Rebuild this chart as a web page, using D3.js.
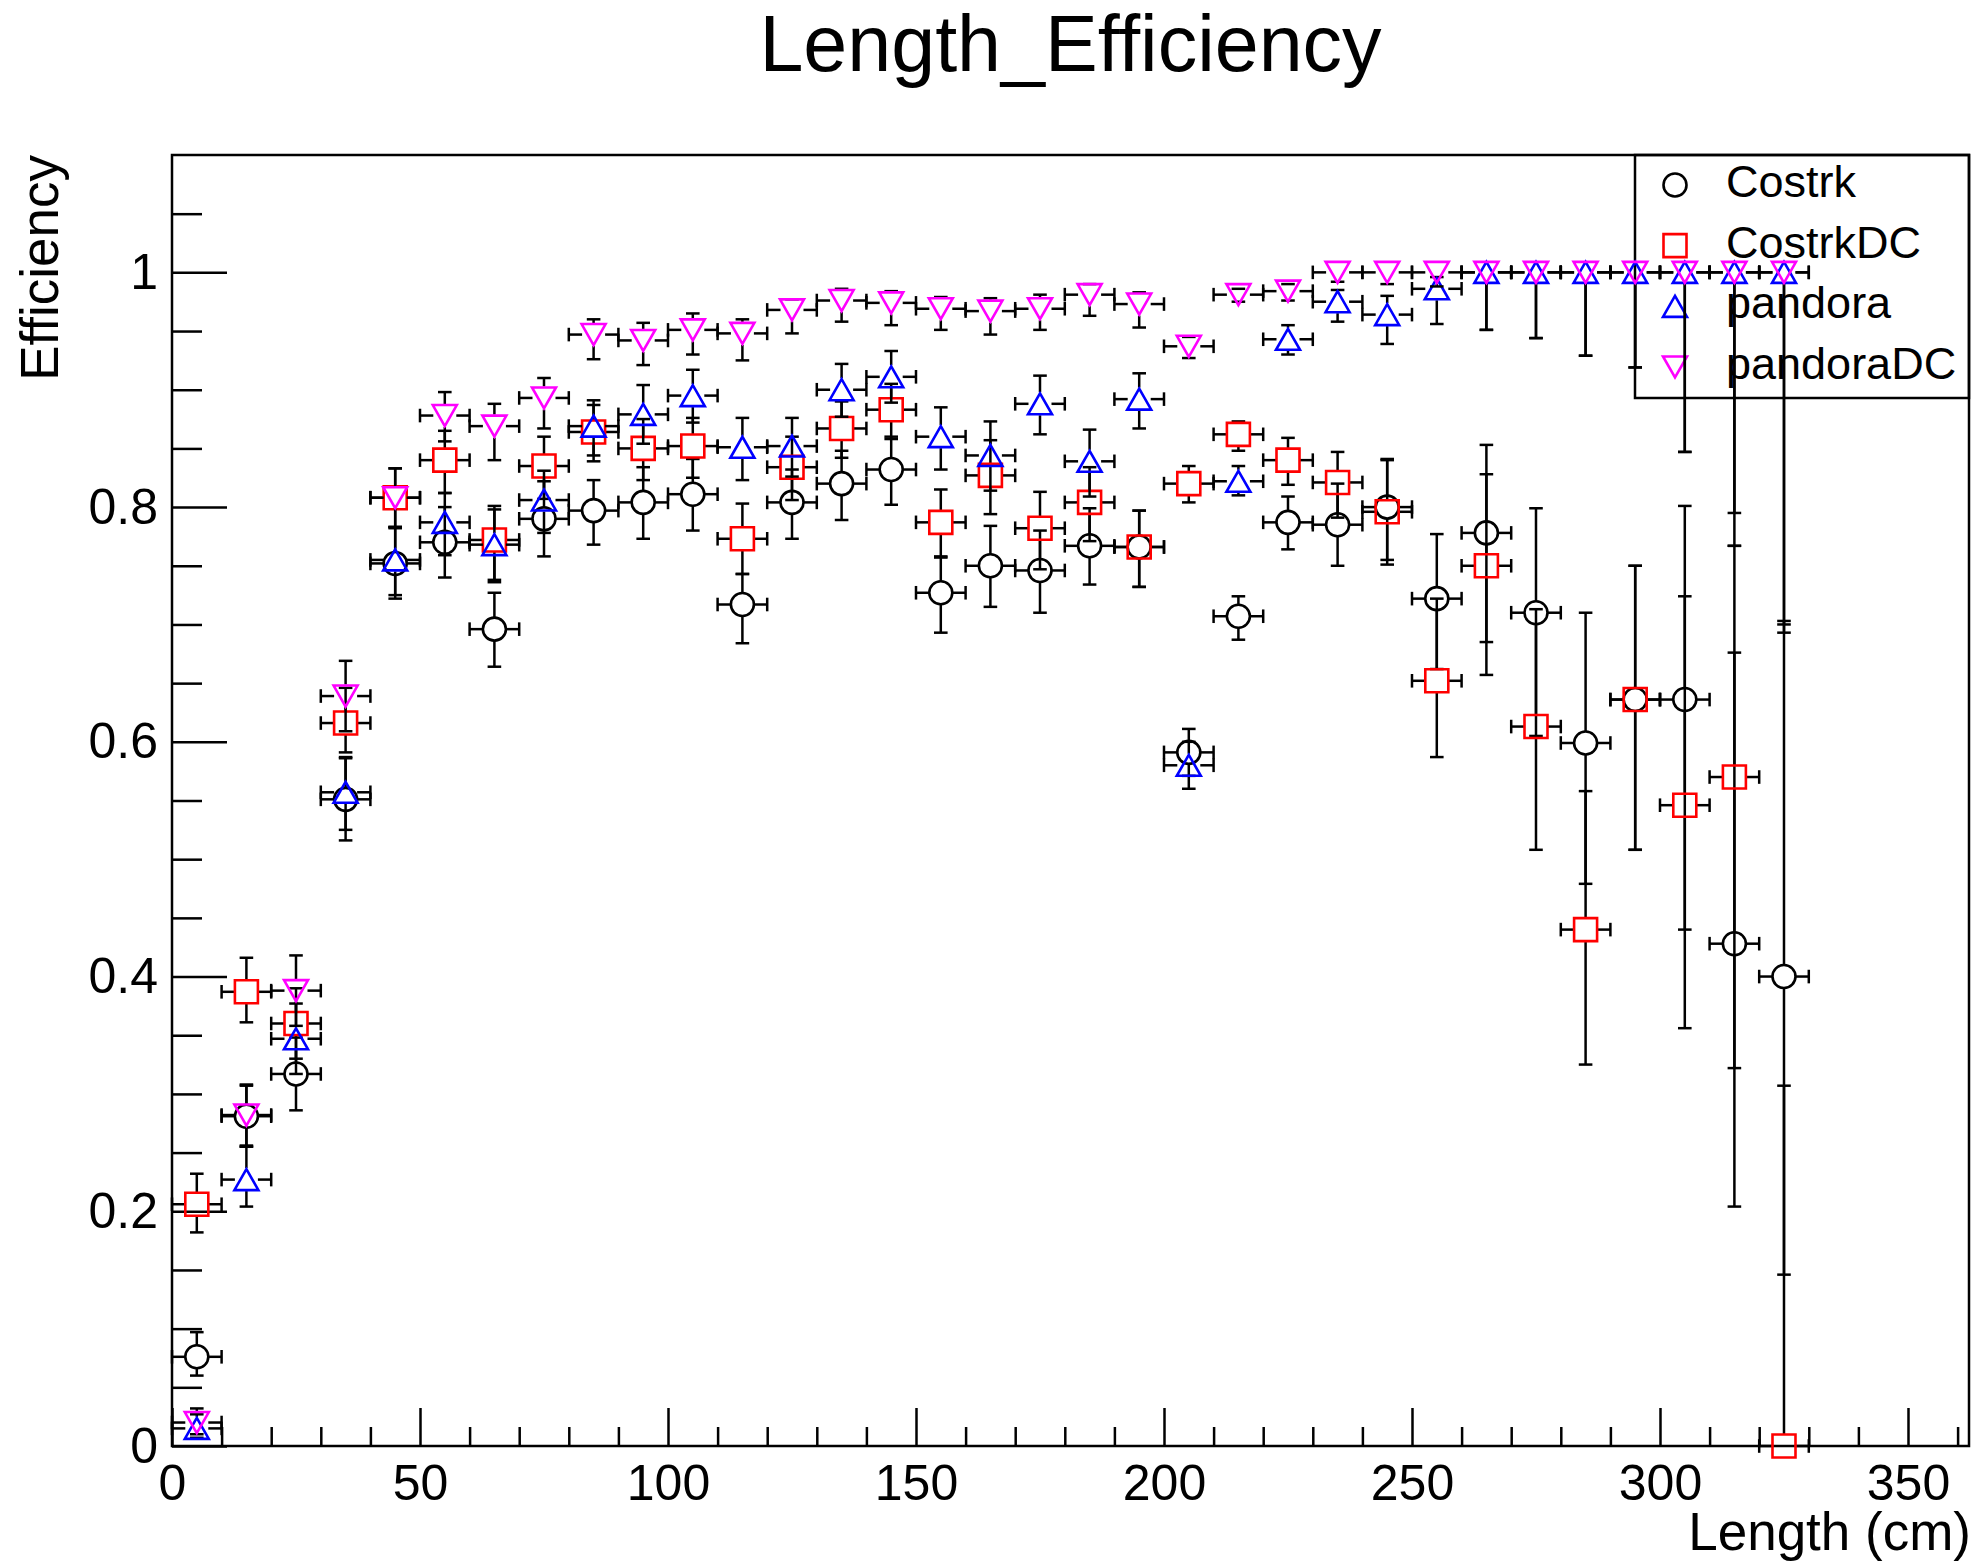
<!DOCTYPE html>
<meta charset="utf-8" />
<title>Length_Efficiency</title>
<style>
  body { margin: 0; background: #fff; }
  svg { display: block; font-family: "Liberation Sans", Arial, Helvetica, sans-serif; }
  .axis text { font-size: 50px; fill: #000; }
  .axis line { stroke: #000; stroke-width: 2.5px; }
  .axis path { display: none; }
  .frame { fill: none; stroke: #000; stroke-width: 2.5px; }
  .err { stroke: #000; stroke-width: 2.5px; fill: none; }
  .mark { fill: none; stroke-width: 2.6px; }
  .legend-box { fill: none; stroke: #000; stroke-width: 2.5px; }
  .legend text { font-size: 45px; fill: #000; }
</style>

<svg width="1980" height="1561"></svg>

<script src="https://d3js.org/d3.v7.min.js"></script>
<script>
const width = 1980, height = 1561;
const svg = d3.select("svg");

// bin centres (cm)
const lengths = [5, 15, 25, 35, 45, 55, 65, 75, 85, 95, 105, 115, 125, 135, 145, 155, 165,
  175, 185, 195, 205, 215, 225, 235, 245, 255, 265, 275, 285, 295, 305, 315, 325];

const costrkEff = [0.076, 0.281, 0.317, 0.551, 0.752, 0.770, 0.696, 0.790, 0.797, 0.804, 0.811,
  0.717, 0.804, 0.820, 0.832, 0.727, 0.750, 0.746, 0.767, 0.766, 0.591, 0.707, 0.787, 0.785,
  0.800, 0.722, 0.778, 0.710, 0.599, 0.636, 0.636, 0.428, 0.400];
const costrkLo = [0.016, 0.026, 0.031, 0.035, 0.030, 0.030, 0.032, 0.032, 0.029, 0.031, 0.031,
  0.033, 0.031, 0.031, 0.030, 0.034, 0.035, 0.036, 0.033, 0.034, 0.020, 0.020, 0.023, 0.035,
  0.045, 0.060, 0.093, 0.105, 0.120, 0.128, 0.196, 0.224, 0.254];
const costrkHi = [0.021, 0.026, 0.031, 0.035, 0.030, 0.030, 0.031, 0.032, 0.026, 0.030, 0.030,
  0.026, 0.028, 0.028, 0.028, 0.031, 0.034, 0.034, 0.032, 0.031, 0.020, 0.017, 0.022, 0.035,
  0.040, 0.055, 0.075, 0.089, 0.111, 0.114, 0.165, 0.248, 0.303];

const costrkDCEff = [0.206, 0.387, 0.360, 0.616, 0.808, 0.840, 0.772, 0.835, 0.864, 0.850, 0.852,
  0.773, 0.834, 0.867, 0.883, 0.787, 0.827, 0.782, 0.804, 0.766, 0.820, 0.862, 0.840, 0.821,
  0.796, 0.652, 0.750, 0.613, 0.440, 0.636, 0.546, 0.570, 0.000];
const costrkDCLo = [0.024, 0.026, 0.030, 0.025, 0.025, 0.028, 0.036, 0.028, 0.025, 0.027, 0.027,
  0.030, 0.028, 0.025, 0.025, 0.030, 0.033, 0.035, 0.033, 0.034, 0.016, 0.014, 0.021, 0.030,
  0.045, 0.065, 0.093, 0.105, 0.115, 0.128, 0.190, 0.248, 0.000];
const costrkDCHi = [0.026, 0.029, 0.030, 0.030, 0.025, 0.025, 0.029, 0.025, 0.023, 0.025, 0.024,
  0.030, 0.026, 0.023, 0.022, 0.028, 0.030, 0.031, 0.030, 0.031, 0.015, 0.011, 0.019, 0.026,
  0.045, 0.070, 0.078, 0.100, 0.118, 0.114, 0.178, 0.197, 0.307];

const pandoraEff = [0.015, 0.227, 0.347, 0.557, 0.755, 0.787, 0.768, 0.806, 0.869, 0.879, 0.895,
  0.851, 0.852, 0.900, 0.911, 0.860, 0.844, 0.888, 0.839, 0.892, 0.580, 0.822, 0.943, 0.975,
  0.964, 0.986, 1.0, 1.0, 1.0, 1.0, 1.0, 1.0, 1.0];
const pandoraLo = [0.008, 0.023, 0.030, 0.032, 0.030, 0.028, 0.030, 0.028, 0.025, 0.025, 0.023,
  0.028, 0.026, 0.023, 0.022, 0.028, 0.030, 0.026, 0.030, 0.025, 0.020, 0.012, 0.013, 0.017,
  0.025, 0.030, 0.049, 0.056, 0.071, 0.081, 0.153, 0.233, 0.307];
const pandoraHi = [0.012, 0.028, 0.030, 0.030, 0.028, 0.025, 0.030, 0.025, 0.022, 0.025, 0.022,
  0.025, 0.024, 0.022, 0.022, 0.025, 0.029, 0.024, 0.027, 0.022, 0.020, 0.013, 0.012, 0.010,
  0.016, 0.010, 0, 0, 0, 0, 0, 0, 0];

const pandoraDCEff = [0.020, 0.282, 0.388, 0.639, 0.808, 0.878, 0.869, 0.893, 0.947, 0.942, 0.951,
  0.948, 0.968, 0.976, 0.974, 0.969, 0.967, 0.969, 0.981, 0.973, 0.937, 0.981, 0.984, 1.0,
  1.0, 1.0, 1.0, 1.0, 1.0, 1.0, 1.0, 1.0, 1.0];
const pandoraDCLo = [0.010, 0.026, 0.030, 0.030, 0.025, 0.022, 0.029, 0.026, 0.021, 0.021, 0.021,
  0.023, 0.020, 0.018, 0.019, 0.018, 0.020, 0.018, 0.018, 0.020, 0.010, 0.006, 0.008, 0.008,
  0.010, 0.012, 0.049, 0.056, 0.071, 0.081, 0.153, 0.205, 0.300];
const pandoraDCHi = [0.012, 0.026, 0.030, 0.030, 0.025, 0.020, 0.019, 0.017, 0.013, 0.015, 0.014,
  0.012, 0.009, 0.010, 0.010, 0.010, 0.011, 0.012, 0.009, 0.010, 0.008, 0.005, 0.006, 0,
  0, 0, 0, 0, 0, 0, 0, 0, 0];

const binHalf = 5;
const xTicks = [0, 50, 100, 150, 200, 250, 300, 350];
const yTicks = [0, 0.2, 0.4, 0.6, 0.8, 1];

const series = [
  { name: "Costrk", color: "#000", shape: "circle", eff: costrkEff, lo: costrkLo, hi: costrkHi },
  { name: "CostrkDC", color: "#ff0000", shape: "square", eff: costrkDCEff, lo: costrkDCLo, hi: costrkDCHi },
  { name: "pandora", color: "#0000ff", shape: "up", eff: pandoraEff, lo: pandoraLo, hi: pandoraHi },
  { name: "pandoraDC", color: "#ff00ff", shape: "down", eff: pandoraDCEff, lo: pandoraDCLo, hi: pandoraDCHi }
];

// frame
const frameL = 172, frameR = 1969, frameT = 155, frameB = 1446;
const x = d3.scaleLinear().domain([0, 362.3]).range([frameL, frameR]);
const y = d3.scaleLinear().domain([0, 1.1]).range([frameB, frameT]);

svg.append("rect").attr("width", width).attr("height", height).attr("fill", "#fff");

// minor ticks
const xMinor = d3.range(0, 362, 10).filter(v => v % 50 !== 0);
const yMinor = d3.range(0, 1.1, 0.05).map(v => +v.toFixed(2))
  .filter(v => Math.abs(v * 5 - Math.round(v * 5)) > 1e-6);

svg.append("g").attr("class", "axis")
  .attr("transform", `translate(0,${frameB})`)
  .call(d3.axisBottom(x).tickValues(xMinor).tickSizeInner(-19).tickSizeOuter(0).tickFormat(""));
svg.append("g").attr("class", "axis")
  .attr("transform", `translate(0,${frameB})`)
  .call(d3.axisBottom(x).tickValues(xTicks).tickSizeInner(-38).tickSizeOuter(0)
    .tickPadding(18).tickFormat(d3.format("d")));

svg.append("g").attr("class", "axis")
  .attr("transform", `translate(${frameL},0)`)
  .call(d3.axisLeft(y).tickValues(yMinor).tickSizeInner(-30).tickSizeOuter(0).tickFormat(""));
svg.append("g").attr("class", "axis")
  .attr("transform", `translate(${frameL},0)`)
  .call(d3.axisLeft(y).tickValues(yTicks).tickSizeInner(-55).tickSizeOuter(0)
    .tickPadding(14).tickFormat(d => String(d)));

svg.append("rect").attr("class", "frame")
  .attr("x", frameL).attr("y", frameT)
  .attr("width", frameR - frameL).attr("height", frameB - frameT);

// titles
svg.append("text")
  .attr("x", (frameL + frameR) / 2).attr("y", 71)
  .attr("text-anchor", "middle")
  .style("font-size", "79px")
  .text("Length_Efficiency");

svg.append("text")
  .attr("x", 1971).attr("y", 1550)
  .attr("text-anchor", "end")
  .style("font-size", "53px")
  .text("Length (cm)");

svg.append("text")
  .attr("transform", `translate(58,${frameT}) rotate(-90)`)
  .attr("text-anchor", "end")
  .style("font-size", "53px")
  .text("Efficiency");

// markers
const markerR = 11.5;
function markerPath(shape) {
  const r = markerR;
  if (shape === "circle") return `M${-r},0A${r},${r} 0 1,0 ${r},0A${r},${r} 0 1,0 ${-r},0Z`;
  if (shape === "square") return `M${-r},${-r}H${r}V${r}H${-r}Z`;
  if (shape === "up") return "M-12,10.5L12,10.5L0,-10.5Z";
  return "M-12,-10.5L12,-10.5L0,10.5Z";
}

// legend
const legendBox = { x0: 1635, y0: frameT, x1: frameR, y1: 398 };
const legend = svg.append("g").attr("class", "legend");
legend.append("rect").attr("class", "legend-box")
  .attr("x", legendBox.x0).attr("y", legendBox.y0)
  .attr("width", legendBox.x1 - legendBox.x0).attr("height", legendBox.y1 - legendBox.y0);
const ly = d3.scalePoint().domain(series.map(s => s.name)).range([185, 367]);
const entry = legend.selectAll("g.entry").data(series).enter().append("g")
  .attr("class", "entry")
  .attr("transform", d => `translate(0,${ly(d.name)})`);
entry.append("path").attr("class", "mark")
  .attr("transform", "translate(1675,0)")
  .attr("d", d => markerPath(d.shape))
  .attr("stroke", d => d.color);
entry.append("text").attr("x", 1726).attr("y", 12).text(d => d.name);

// data: error bars then markers, one series at a time
const cap = 6.8, gap = markerR;
series.forEach(s => {
  const g = svg.append("g");
  const pts = lengths.map((len, i) => ({ len, v: s.eff[i], lo: s.lo[i], hi: s.hi[i] }));
  const segs = [];
  pts.forEach(p => {
    const cx = x(p.len), cy = y(p.v);
    const yt = y(p.v + p.hi), yb = y(p.v - p.lo);
    const xl = x(p.len - binHalf), xr = x(p.len + binHalf);
    if (p.hi > 0) {
      if (cy - yt > gap) segs.push([cx, cy - gap, cx, yt]);
      segs.push([cx - cap, yt, cx + cap, yt]);
    }
    if (p.lo > 0) {
      if (yb - cy > gap) segs.push([cx, cy + gap, cx, yb]);
      segs.push([cx - cap, yb, cx + cap, yb]);
    }
    segs.push([cx - gap, cy, xl, cy], [xl, cy - cap, xl, cy + cap]);
    segs.push([cx + gap, cy, xr, cy], [xr, cy - cap, xr, cy + cap]);
  });
  g.selectAll("line").data(segs).enter().append("line")
    .attr("class", "err")
    .attr("x1", d => d[0]).attr("y1", d => d[1])
    .attr("x2", d => d[2]).attr("y2", d => d[3]);
  g.selectAll("path").data(pts).enter().append("path")
    .attr("class", "mark")
    .attr("transform", d => `translate(${x(d.len)},${y(d.v)})`)
    .attr("d", markerPath(s.shape))
    .attr("stroke", s.color);
});
</script>
